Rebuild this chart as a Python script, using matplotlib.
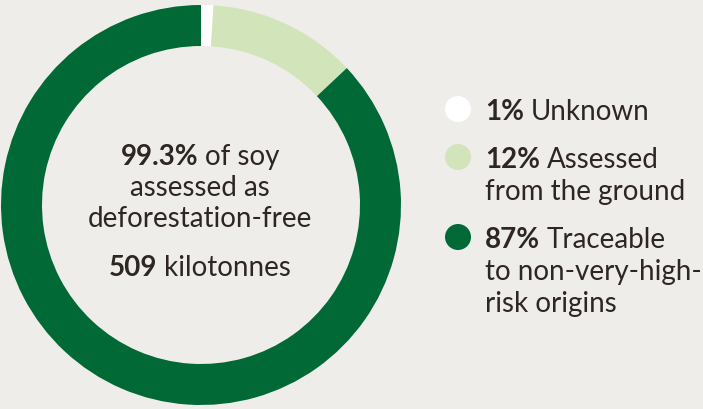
import matplotlib.pyplot as plt

# Soy sourcing breakdown
shares = [1, 12, 87]
colors = ['#FFFFFF', '#D2E4B9', '#006935']
legend_pct = ['1%', '12%', '87%']
legend_text = [['Unknown'],
               ['Assessed', 'from the ground'],
               ['Traceable', 'to non-very-high-', 'risk origins']]
headline_pct = '99.3%'
headline_lines = ['of soy', 'assessed as', 'deforestation-free']
volume = '509'
volume_unit = 'kilotonnes'

BG = '#EFEDEA'
INK = '#2E2622'
FONT = 'Lato'
FS = 20

fig = plt.figure(figsize=(7.03, 4.10), dpi=100, facecolor=BG)
ax = fig.add_axes([0, 0, 1, 1])
ax.set_xlim(0, 703)
ax.set_ylim(0, 410)
ax.set_aspect('equal')
ax.axis('off')

ax.pie(shares, colors=colors, startangle=90, counterclock=False,
       radius=200, center=(201, 204), wedgeprops=dict(width=41, linewidth=0))
ax.set_xlim(0, 703)
ax.set_ylim(0, 410)

renderer = fig.canvas.get_renderer()


def text_width(s, weight):
    t = ax.text(0, 0, s, fontsize=FS, family=FONT, fontweight=weight)
    w = t.get_window_extent(renderer).width
    t.remove()
    return w


def mixed(x, y, bold, regular, align='left'):
    # bold lead-in followed by regular text on one line
    wb = text_width(bold + ' ', 'bold')
    wr = text_width(regular, 'normal')
    if align == 'center':
        x = x - (wb + wr) / 2
    ax.text(x, y, bold, fontsize=FS, family=FONT, fontweight='bold',
            color=INK, va='center', ha='left')
    ax.text(x + wb, y, regular, fontsize=FS, family=FONT,
            color=INK, va='center', ha='left')


# centre label
cx = 200
mixed(cx, 410 - 157, headline_pct, headline_lines[0], align='center')
for i, line in enumerate(headline_lines[1:]):
    ax.text(cx, 410 - 188 - 31 * i, line, fontsize=FS, family=FONT,
            color=INK, ha='center', va='center')
mixed(cx, 410 - 268, volume, volume_unit, align='center')

# legend
legend_y = [110, 158, 238]
for pct, lines, col, y in zip(legend_pct, legend_text, colors, legend_y):
    ax.add_patch(plt.Circle((458, 410 - y), 13, color=col, lw=0))
    mixed(485, 410 - y - 2, pct, lines[0])
    for j, line in enumerate(lines[1:]):
        ax.text(485, 410 - y - 2 - 32 * (j + 1), line, fontsize=FS, family=FONT,
                color=INK, ha='left', va='center')

fig.savefig('out.png', dpi=100, facecolor=BG)
